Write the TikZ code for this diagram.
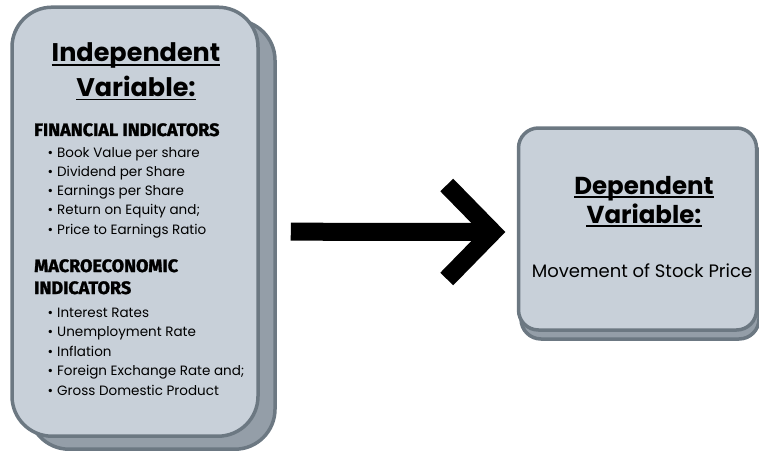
\documentclass[tikz,border=0pt]{standalone}
\usepackage{fontspec}
\setmainfont{Poppins}
\newfontfamily\headfont{Fira Sans}[BoldFeatures={FakeBold=1.5}]
\usetikzlibrary{calc}
\definecolor{boxfill}{RGB}{200,208,217}
\definecolor{boxline}{RGB}{108,120,130}
\definecolor{shadowfill}{RGB}{148,158,168}
\begin{document}
\begin{tikzpicture}[x=1pt,y=1pt,
  frontbox/.style={draw=boxline, line width=3.5pt, fill=boxfill, rectangle, inner sep=0pt},
  shadowbox/.style={draw=boxline, line width=3.5pt, fill=shadowfill, rectangle, inner sep=0pt},
  bighead/.style={inner sep=0pt, anchor=base, font=\bfseries\fontsize{25.5}{30}\selectfont},
  midhead/.style={inner sep=0pt, anchor=base, font=\bfseries\fontsize{24.5}{29}\selectfont},
  caphead/.style={inner sep=0pt, anchor=base west, font=\headfont\bfseries\fontsize{18}{21}\selectfont},
  item/.style={inner sep=0pt, anchor=base west, font=\fontsize{13.5}{16}\selectfont},
  uline/.style={line width=1.8pt, black},
  arrowline/.style={line width=18pt, black}
]
\useasboundingbox (0,0) rectangle (759,456);
% left box
\node[shadowbox, rounded corners=40pt, minimum width=246pt, minimum height=429pt] (Lsh) at (152,221.3) {};
\node[frontbox, rounded corners=40pt, minimum width=246pt, minimum height=429pt] (L) at (135,234.3) {};
% right box
\node[shadowbox, rounded corners=20pt, minimum width=238pt, minimum height=202pt] (Rsh) at (640,218) {};
\node[frontbox, rounded corners=20pt, minimum width=238pt, minimum height=202pt] (R) at (637.5,227) {};

% left texts
\node[bighead] (i1) at (136,394) {Independent};
\node[bighead] (i2) at (136,359.5) {Variable:};
\draw[uline] ($(i1.base west)+(0,-3)$) -- ($(i1.base east)+(0,-3)$);
\draw[uline] ($(i2.base west)+(0,-3)$) -- ($(i2.base east)+(0,-3)$);
\node[caphead] (fin) at (34,320) {FINANCIAL INDICATORS};
\node[item] (f1) at (47.5,299) {\makebox[9.5pt][l]{\textbullet}Book Value per share};
\node[item] (f2) at (47.5,279.8) {\makebox[9.5pt][l]{\textbullet}Dividend per Share};
\node[item] (f3) at (47.5,260.5) {\makebox[9.5pt][l]{\textbullet}Earnings per Share};
\node[item] (f4) at (47.5,241.3) {\makebox[9.5pt][l]{\textbullet}Return on Equity and;};
\node[item] (f5) at (47.5,222) {\makebox[9.5pt][l]{\textbullet}Price to Earnings Ratio};
\node[caphead] (mac1) at (34,184) {MACROECONOMIC};
\node[caphead] (mac2) at (34,162) {INDICATORS};
\node[item] (m1) at (47.5,139) {\makebox[9.5pt][l]{\textbullet}Interest Rates};
\node[item] (m2) at (47.5,119.5) {\makebox[9.5pt][l]{\textbullet}Unemployment Rate};
\node[item] (m3) at (47.5,100) {\makebox[9.5pt][l]{\textbullet}Inflation};
\node[item] (m4) at (47.5,80.5) {\makebox[9.5pt][l]{\textbullet}Foreign Exchange Rate and;};
\node[item] (m5) at (47.5,61) {\makebox[9.5pt][l]{\textbullet}Gross Domestic Product};

% right texts
\node[midhead] (d1) at (644,262) {Dependent};
\node[midhead] (d2) at (644,233) {Variable:};
\draw[uline] ($(d1.base west)+(0,-3)$) -- ($(d1.base east)+(0,-3)$);
\draw[uline] ($(d2.base west)+(0,-3)$) -- ($(d2.base east)+(0,-3)$);
\node[inner sep=0pt, anchor=base, font=\fontsize{18}{22}\selectfont] (mv) at (642,178.5) {Movement of Stock Price};

% arrow
\coordinate (aS) at ($(L.east)+(31,-10)$);
\coordinate (aT) at ($(R.west)+(-24,-3)$);
\draw[arrowline] (aS) -- (aT);
\draw[arrowline, miter limit=4, line join=miter] ($(aT)+(-46,47)$) -- (aT) -- ($(aT)+(-46,-47)$);
\end{tikzpicture}
\end{document}
